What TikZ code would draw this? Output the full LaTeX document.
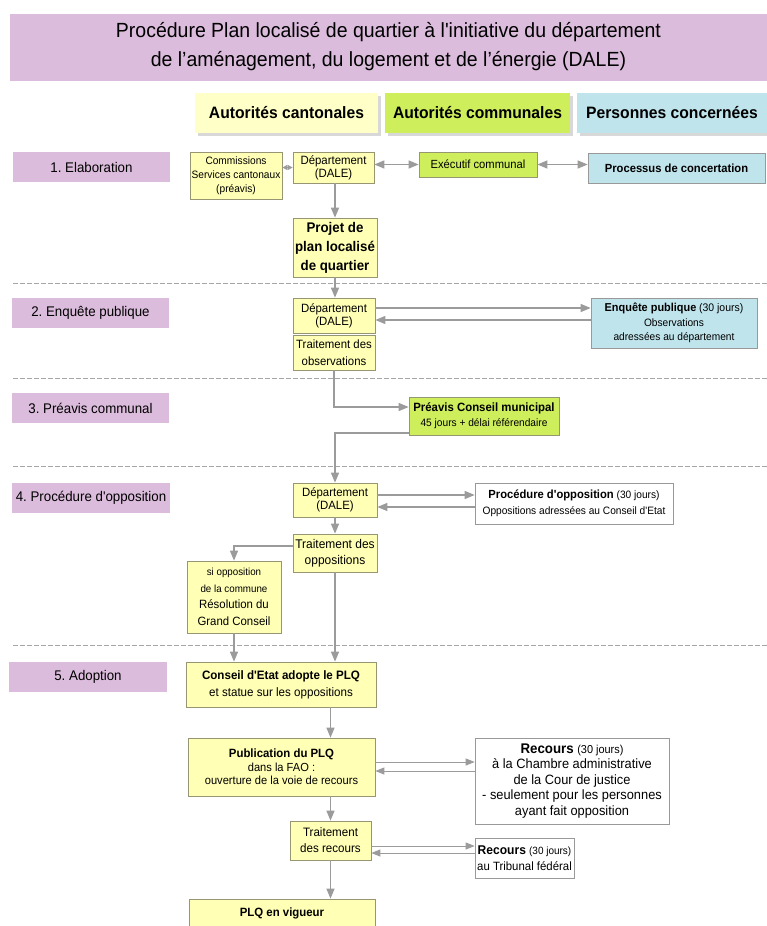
\documentclass[tikz,border=0pt]{standalone}
\usepackage{fontspec}
\setmainfont{Liberation Sans}[FakeStretch=0.95]
\newfontfamily\lib{Liberation Sans}[FakeStretch=0.95]
\usetikzlibrary{arrows.meta,shadows}
\definecolor{purp}{RGB}{220,188,220}
\definecolor{yel}{RGB}{255,255,182}
\definecolor{yelhead}{RGB}{255,255,200}
\definecolor{grn}{RGB}{206,238,92}
\definecolor{blu}{RGB}{192,228,236}
\definecolor{bord}{RGB}{150,150,115}
\definecolor{arrg}{RGB}{155,155,155}
\newcommand\fs[2]{\lib\frenchspacing\fontsize{#1}{#2}\selectfont}
\begin{document}
\begin{tikzpicture}[x=1pt,y=-1pt,
  head/.style={inner sep=0pt, font=\fs{16.5}{18}\bfseries, drop shadow={shadow xshift=3pt,shadow yshift=-3pt,fill=black!30}},
  lbl/.style={fill=purp, inner sep=0pt, font=\fs{14}{16}},
  box/.style={line width=0.7pt, align=center, inner sep=0pt, font=\fs{12}{13}},
  ybox/.style={box, draw=bord, fill=yel},
  gbox/.style={box, draw=bord, fill=grn},
  bbox/.style={box, draw=gray!80, fill=blu},
  wbox/.style={box, draw=gray!80, fill=white},
  sep/.style={draw=gray!70, line width=0.8pt, dash pattern=on 5pt off 2pt},
  arr/.style={draw=arrg, line width=1.3pt, -{Triangle[width=8pt,length=10pt]}},
  tarr/.style={draw=arrg, line width=1pt, -{Triangle[width=7pt,length=9pt]}},
  darr/.style={draw=arrg, line width=1.3pt, {Triangle[width=8pt,length=10pt]}-{Triangle[width=8pt,length=10pt]}},
  sdarr/.style={draw=arrg, line width=1pt, {Triangle[width=5pt,length=5pt]}-{Triangle[width=5pt,length=5pt]}}
]
\useasboundingbox (0,0) rectangle (767,926);

% title
\node[fill=purp, minimum width=757pt, minimum height=67pt, align=center, inner sep=0pt, font=\fs{20.5}{29}] (title) at (388.5,47)
  {Procédure Plan localisé de quartier à l'initiative du département\\de l’aménagement, du logement et de l’énergie (DALE)};

% column headers
\node[head, fill=yelhead, minimum width=183pt, minimum height=40pt] (hc) at (286.5,113) {Autorités cantonales};
\node[head, fill=grn, minimum width=185pt, minimum height=40pt] (hk) at (477.5,113) {Autorités communales};
\node[head, fill=blu, minimum width=190pt, minimum height=40pt] (hp) at (672,113) {Personnes concernées};

% separators
\coordinate (s1a) at (13,283); \coordinate (s1b) at (767,283);
\coordinate (s2a) at (13,378); \coordinate (s2b) at (767,378);
\coordinate (s3a) at (13,466); \coordinate (s3b) at (767,466);
\coordinate (s4a) at (13,645); \coordinate (s4b) at (767,645);
\draw[sep] (s1a) -- (s1b);
\draw[sep] (s2a) -- (s2b);
\draw[sep] (s3a) -- (s3b);
\draw[sep] (s4a) -- (s4b);

% row labels
\node[lbl, minimum width=157pt, minimum height=30pt] (l1) at (91.5,167) {1. Elaboration};
\node[lbl, minimum width=157pt, minimum height=30pt] (l2) at (90.5,313) {2. Enquête publique};
\node[lbl, minimum width=157pt, minimum height=30pt] (l3) at (90.5,408) {3. Préavis communal};
\node[lbl, minimum width=158pt, minimum height=30pt] (l4) at (91,498) {4. Procédure d'opposition};
\node[lbl, minimum width=158pt, minimum height=30pt] (l5) at (88,677) {5. Adoption};

% row 1
\node[ybox, minimum width=92pt, minimum height=47pt, font=\fs{10.7}{14}] (com) at (236,175.5) {Commissions\\Services cantonaux\\(préavis)};
\node[ybox, minimum width=81pt, minimum height=31pt] (dep1) at (333.5,167.5) {Département\\(DALE)};
\node[gbox, minimum width=118pt, minimum height=25pt, font=\fs{11.8}{13}] (exe) at (478,164.5) {Exécutif communal};
\node[bbox, minimum width=177pt, minimum height=30pt, font=\fs{11.8}{13}\bfseries] (pro) at (676.5,168) {Processus de concertation};
\node[ybox, minimum width=84pt, minimum height=59pt, font=\fs{14}{19}\bfseries] (proj) at (335,247.5) {Projet de\\plan localisé\\de quartier};

\draw[sdarr] (dep1.west) -- (dep1.west -| com.east);
\draw[darr] (dep1.east |- exe.west) -- (exe.west);
\draw[darr] (exe.east) -- (exe.east -| pro.west);
\draw[arr] (dep1.south -| proj.north) -- (proj.north);

% row 2
\node[ybox, minimum width=82pt, minimum height=35pt] (dep2) at (334,315.5) {Département\\(DALE)};
\node[ybox, minimum width=82pt, minimum height=35pt, font=\fs{12}{17}] (tro) at (334,352.5) {Traitement des\\observations};
\node[bbox, minimum width=166pt, minimum height=50pt, font=\fs{10.7}{14.5}] (enq) at (674,323)
  {{\fs{11.5}{14.5}\bfseries Enquête publique} {\fs{11}{14.5}(30 jours)}\\Observations\\adressées au département};

\draw[arr] (proj.south) -- (proj.south |- dep2.north);
\draw[arr] (dep2.east |- 0,308) -- (enq.west |- 0,308);
\draw[arr] (enq.west |- 0,320) -- (dep2.east |- 0,320);

% row 3
\node[gbox, minimum width=150pt, minimum height=38pt, font=\fs{10.7}{15}] (pre) at (484,416)
  {{\fs{12}{15}\bfseries Préavis Conseil municipal}\\45 jours + délai référendaire};
\draw[arr] (tro.south) |- (pre.west |- 0,407);

% row 4
\node[ybox, minimum width=84pt, minimum height=34pt] (dep4) at (335,500) {Département\\(DALE)};
\node[ybox, minimum width=84pt, minimum height=38pt, font=\fs{12.6}{16}] (trop) at (335,553) {Traitement des\\oppositions};
\node[ybox, minimum width=94pt, minimum height=72pt, font=\fs{12}{16.5}] (siop) at (234,597)
  {{\fs{10.3}{15}si opposition}\\{\fs{10.3}{15}de la commune}\\Résolution du\\Grand Conseil};
\node[wbox, minimum width=198pt, minimum height=41pt, font=\fs{10.7}{15.5}] (proc) at (574,503.5)
  {{\fs{11.8}{15.5}\bfseries Procédure d'opposition} (30 jours)\\Oppositions adressées au Conseil d'Etat};

\draw[arr] (pre.west |- 0,433) -| (dep4.north);
\draw[arr] (dep4.south) -- (trop.north);
\draw[arr] (dep4.east |- 0,495) -- (proc.west |- 0,495);
\draw[arr] (proc.west |- 0,507) -- (dep4.east |- 0,507);
\draw[arr] (trop.west |- 0,546) -| (siop.north);

% row 5
\node[ybox, minimum width=190pt, minimum height=45pt, font=\fs{12.2}{17}] (cons) at (281,684.5)
  {{\bfseries Conseil d'Etat adopte le PLQ}\\et statue sur les oppositions};
\node[ybox, minimum width=187pt, minimum height=58pt, font=\fs{11.7}{13.5}] (pub) at (281.5,767)
  {{\fs{12}{13.5}\bfseries Publication du PLQ}\\dans la FAO :\\ouverture de la voie de recours};
\node[wbox, minimum width=194pt, minimum height=86pt, font=\fs{13.5}{15.5}] (rec) at (572,781)
  {{\fs{14}{15.5}\bfseries Recours} {\fs{11.5}{15.5}(30 jours)}\\à la Chambre administrative\\de la Cour de justice\\- seulement pour les personnes\\ayant fait opposition};
\node[ybox, minimum width=81pt, minimum height=39pt, font=\fs{12.2}{16}] (trr) at (330.5,840.5) {Traitement\\des recours};
\node[wbox, minimum width=99pt, minimum height=40pt, font=\fs{12}{15.5}] (rtf) at (524.5,858)
  {{\fs{12.7}{15.5}\bfseries Recours} {\fs{10.5}{15.5}(30 jours)}\\au Tribunal fédéral};
\node[ybox, minimum width=186pt, minimum height=29pt, font=\fs{12}{14}\bfseries] (plq) at (282,913.5) {PLQ en vigueur};

\draw[arr] (siop.south) -- (siop.south |- cons.north);
\draw[arr] (trop.south) -- (trop.south |- cons.north);
\draw[arr] (cons.south -| trr.north) -- (pub.north -| trr.north);
\draw[tarr] (pub.east |- 0,762) -- (rec.west |- 0,762);
\draw[tarr] (rec.west |- 0,771) -- (pub.east |- 0,771);
\draw[arr] (pub.south -| trr.north) -- (trr.north);
\draw[tarr] (trr.east |- 0,846) -- (rtf.west |- 0,846);
\draw[tarr] (rtf.west |- 0,853) -- (trr.east |- 0,853);
\draw[arr] (trr.south) -- (trr.south |- plq.north);
\end{tikzpicture}
\end{document}
